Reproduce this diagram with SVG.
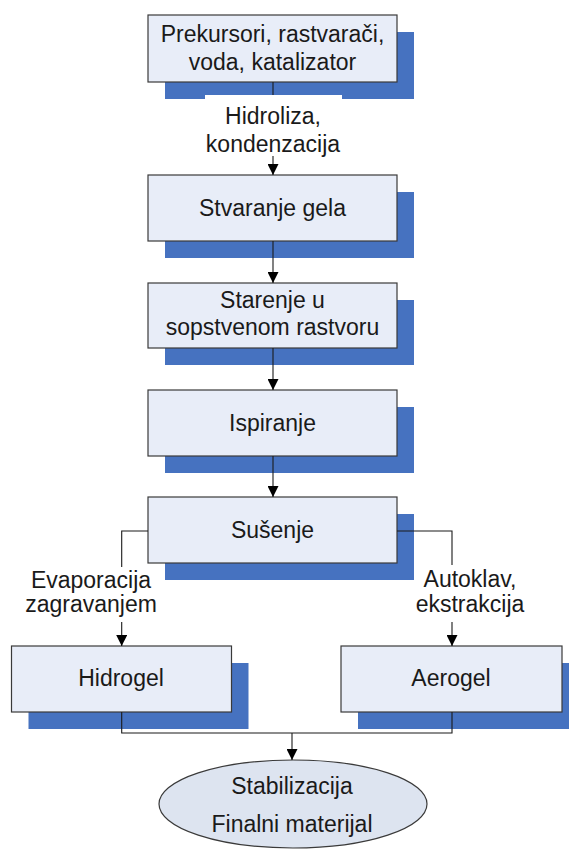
<svg xmlns="http://www.w3.org/2000/svg" width="569" height="852" viewBox="0 0 569 852">
  <style>
    .shadow { fill: #4672c0; }
    .box { fill: #e8edf8; stroke: #3a3a3a; stroke-width: 1.2; }
    .oval { fill: #dde4f0; stroke: #3a3a3a; stroke-width: 1.2; }
    .conn { fill: none; stroke: #1a1a1a; stroke-width: 1.1; }
    .bg { fill: #ffffff; }
    text { font-family: "Liberation Sans", Arial, sans-serif; font-size: 23px; fill: #1a1a1a; text-anchor: middle; }
  </style>
  <defs>
    <marker id="arrow" markerUnits="userSpaceOnUse" markerWidth="11" markerHeight="11" refX="11" refY="5.5" orient="auto">
      <path d="M0,0 L11,5.5 L0,11 Z" fill="#000000"/>
    </marker>
  </defs>

  <rect width="569" height="852" fill="#ffffff"/>

  <!-- drop shadows -->
  <g id="shadows">
    <rect class="shadow" x="165" y="32" width="249" height="67"/>
    <rect class="shadow" x="165" y="192" width="249" height="66"/>
    <rect class="shadow" x="165" y="300" width="249" height="65"/>
    <rect class="shadow" x="165" y="407" width="249" height="66"/>
    <rect class="shadow" x="165" y="514" width="249" height="66"/>
    <rect class="shadow" x="28.5" y="663" width="220" height="66"/>
    <rect class="shadow" x="358" y="663" width="221" height="66"/>
  </g>

  <!-- process steps -->
  <g id="prekursori">
    <rect class="box" x="148" y="15" width="249" height="67"/>
    <text x="272.5" y="41.5">Prekursori, rastvarači,</text>
    <text x="272.5" y="70">voda, katalizator</text>
  </g>
  <g id="stvaranje-gela">
    <rect class="box" x="148" y="175" width="249" height="66"/>
    <text x="272.5" y="215.5">Stvaranje gela</text>
  </g>
  <g id="starenje">
    <rect class="box" x="148" y="283" width="249" height="65"/>
    <text x="272.5" y="308">Starenje u</text>
    <text x="272.5" y="335">sopstvenom rastvoru</text>
  </g>
  <g id="ispiranje">
    <rect class="box" x="148" y="390" width="249" height="66"/>
    <text x="272.5" y="430.5">Ispiranje</text>
  </g>
  <g id="susenje">
    <rect class="box" x="148" y="497" width="249" height="66"/>
    <text x="272.5" y="537.5">Sušenje</text>
  </g>
  <g id="hidrogel">
    <rect class="box" x="11.5" y="646" width="220" height="66"/>
    <text x="121" y="686">Hidrogel</text>
  </g>
  <g id="aerogel">
    <rect class="box" x="341" y="646" width="221" height="66"/>
    <text x="451" y="686">Aerogel</text>
  </g>
  <g id="stabilizacija">
    <ellipse class="oval" cx="293" cy="804" rx="134" ry="44"/>
    <text x="292" y="794">Stabilizacija</text>
    <text x="292" y="832">Finalni materijal</text>
  </g>

  <!-- connectors -->
  <g id="connectors">
    <path class="conn" d="M273,82 V175" marker-end="url(#arrow)"/>
    <path class="conn" d="M273,241 V283" marker-end="url(#arrow)"/>
    <path class="conn" d="M273,348 V390" marker-end="url(#arrow)"/>
    <path class="conn" d="M273,456 V497" marker-end="url(#arrow)"/>
    <path class="conn" d="M148,531 H121.7 V646" marker-end="url(#arrow)"/>
    <path class="conn" d="M397,531 H452 V646" marker-end="url(#arrow)"/>
    <path class="conn" d="M121.7,712 V733 H452 V712"/>
    <path class="conn" d="M292,733 V760" marker-end="url(#arrow)"/>
  </g>

  <!-- connector labels -->
  <g id="label-hidroliza">
    <rect class="bg" x="205" y="95" width="137" height="61"/>
    <text x="273" y="124">Hidroliza,</text>
    <text x="273" y="152">kondenzacija</text>
  </g>
  <g id="label-evaporacija">
    <rect class="bg" x="24" y="567" width="134" height="55"/>
    <text x="91" y="588">Evaporacija</text>
    <text x="91" y="612">zagravanjem</text>
  </g>
  <g id="label-autoklav">
    <rect class="bg" x="414" y="565" width="112" height="57"/>
    <text x="470" y="587">Autoklav,</text>
    <text x="470" y="612">ekstrakcija</text>
  </g>
</svg>
